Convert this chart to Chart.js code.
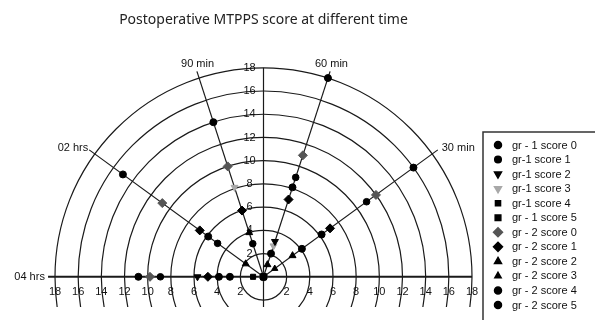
<!DOCTYPE html>
<html>
<head>
<meta charset="utf-8">
<script src="https://cdn.jsdelivr.net/npm/chart.js@4"></script>
<style>
  body { margin: 0; background: #fff; }
</style>
</head>
<body>
<canvas id="polarChart" width="595" height="320"></canvas>
<script>
// spokes (0 min on the right, going anticlockwise to 04 hrs on the left)
const spokeLabels = ['', '30 min', '60 min', '90 min', '02 hrs', '04 hrs'];
const ringTicks = [2, 4, 6, 8, 10, 12, 14, 16, 18];
const seriesNames = ['gr - 1 score 0', 'gr-1 score 1', 'gr-1 score 2', 'gr-1 score 3', 'gr-1 score 4', 'gr - 1 score 5',
  'gr - 2 score 0', 'gr - 2 score 1', 'gr - 2 score 2', 'gr - 2 score 3', 'gr - 2 score 4', 'gr - 2 score 5'];

// values per spoke: [0 min, 30 min, 60 min, 90 min, 02 hrs, 04 hrs]
const gr1Score0 = [0, 16, 18, 14, 15, 10.8];
const gr1Score1 = [0, 11, 9, 3, 4.9, 8.9];
const gr1Score2 = [0, 0, 3.2, 0, 0, 5.7];
const gr1Score3 = [0, 0, 2.8, 8.1, 0, 0];
const gr1Score4 = [0, 0, 0, 0, 0, 0.9];
const gr1Score5 = [0, 0, 0, 0, 0, 0];
const gr2Score0 = [0, 12, 11, 10, 10.8, 9.8];
const gr2Score1 = [0, 7.1, 7, 6, 6.8, 4.8];
const gr2Score2 = [0, 3.1, 1.1, 4, 1.9, 0];
const gr2Score3 = [0, 1.2, 0, 0, 0, 0];
const gr2Score4 = [0, 6.2, 8.1, 0, 5.9, 3.85];
const gr2Score5 = [0, 4.1, 2.1, 0, 0, 2.9];

const allSeries = [gr1Score0, gr1Score1, gr1Score2, gr1Score3, gr1Score4, gr1Score5,
  gr2Score0, gr2Score1, gr2Score2, gr2Score3, gr2Score4, gr2Score5];

const markers = [
  { style: 'circle', color: '#000', radius: 3.5, rotation: 0 },
  { style: 'circle', color: '#000', radius: 3.3, rotation: 0 },
  { style: 'triangle', color: '#000', radius: 4, rotation: 180 },
  { style: 'triangle', color: '#a8a8a8', radius: 4, rotation: 180 },
  { style: 'rect', color: '#000', radius: 3.6, rotation: 0 },
  { style: 'rect', color: '#000', radius: 4, rotation: 0 },
  { style: 'rectRot', color: '#555', radius: 4.5, rotation: 0 },
  { style: 'rectRot', color: '#000', radius: 4.5, rotation: 0 },
  { style: 'triangle', color: '#000', radius: 4, rotation: 0 },
  { style: 'triangle', color: '#000', radius: 3.6, rotation: 0 },
  { style: 'circle', color: '#000', radius: 3.5, rotation: 0 },
  { style: 'circle', color: '#000', radius: 3.5, rotation: 0 }
];

const RMAX = 18;
const YMIN = -2.6;
const angleOf = i => Math.PI * i / (spokeLabels.length - 1);
const toXY = vals => vals.map((r, i) => r == null ? null : ({ x: r * Math.cos(angleOf(i)), y: r * Math.sin(angleOf(i)) }));

const axisFont = '11px "Liberation Sans", Arial, sans-serif';

const polarGrid = {
  id: 'polarGrid',
  beforeDatasetsDraw(chart) {
    const { ctx, scales: { x, y } } = chart;
    const cx = x.getPixelForValue(0), cy = y.getPixelForValue(0);
    const kx = (x.getPixelForValue(RMAX) - cx) / RMAX;
    const ky = (cy - y.getPixelForValue(RMAX)) / RMAX;
    const yBottom = y.getPixelForValue(YMIN);

    ctx.save();
    ctx.strokeStyle = '#1a1a1a';
    ctx.lineWidth = 1.2;
    ctx.beginPath();
    ctx.rect(0, 0, chart.width, yBottom);
    ctx.clip();
    ringTicks.forEach(r => {
      ctx.beginPath();
      ctx.ellipse(cx, cy, r * kx, r * ky, 0, 0, Math.PI * 2);
      ctx.stroke();
    });
    ctx.restore();

    ctx.save();
    ctx.strokeStyle = '#1a1a1a';
    ctx.lineWidth = 1.2;
    // slanted spokes
    for (let i = 1; i < spokeLabels.length - 1; i++) {
      const a = angleOf(i);
      ctx.beginPath();
      ctx.moveTo(cx, cy);
      ctx.lineTo(cx + 18.6 * kx * Math.cos(a), cy - 18.6 * ky * Math.sin(a));
      ctx.stroke();
    }
    // vertical axis
    ctx.beginPath();
    ctx.moveTo(cx, y.getPixelForValue(RMAX));
    ctx.lineTo(cx, yBottom);
    ctx.stroke();
    // horizontal axis
    ctx.lineWidth = 2;
    ctx.beginPath();
    ctx.moveTo(x.getPixelForValue(-18.6), cy);
    ctx.lineTo(x.getPixelForValue(RMAX), cy);
    ctx.stroke();

    ctx.fillStyle = '#111';
    ctx.font = axisFont;
    // tick labels along the horizontal axis
    ctx.textAlign = 'center';
    ctx.textBaseline = 'middle';
    ringTicks.forEach(r => {
      ctx.fillText(String(r), x.getPixelForValue(-r), cy + 15);
      ctx.fillText(String(r), x.getPixelForValue(r), cy + 15);
    });
    // tick labels along the vertical axis
    ringTicks.forEach(r => {
      ctx.fillText(String(r), cx - 14, y.getPixelForValue(r));
    });
    // spoke labels
    spokeLabels.forEach((lab, i) => {
      if (!lab) return;
      const a = angleOf(i);
      const px = cx + 18.7 * kx * Math.cos(a), py = cy - 18.7 * ky * Math.sin(a);
      const c = Math.cos(a);
      if (Math.abs(c) > 0.99) {
        ctx.textAlign = 'right'; ctx.textBaseline = 'middle';
        ctx.fillText(lab, px - 2, py);
      } else if (Math.abs(c) > 0.5) {
        ctx.textAlign = c > 0 ? 'left' : 'right'; ctx.textBaseline = 'middle';
        ctx.fillText(lab, px + (c > 0 ? 3 : 0), py - 1);
      } else {
        ctx.textAlign = 'center'; ctx.textBaseline = 'bottom';
        ctx.fillText(lab, px + 1, py - 1);
      }
    });
    ctx.restore();
  },
  afterDraw(chart) {
    const { ctx } = chart;
    ctx.save();
    ctx.strokeStyle = '#333';
    ctx.lineWidth = 1.5;
    ctx.strokeRect(483, 132, 140, 200);
    ctx.font = axisFont;
    ctx.textAlign = 'left';
    ctx.textBaseline = 'middle';
    seriesNames.forEach((name, i) => {
      const yy = 145 + i * 14.55;
      const m = markers[i];
      ctx.fillStyle = m.color;
      ctx.strokeStyle = m.color;
      Chart.helpers.drawPoint(ctx, { pointStyle: m.style, radius: m.radius, rotation: m.rotation, borderWidth: 1 }, 498, yy);
      ctx.fillStyle = '#111';
      ctx.fillText(name, 512, yy + 0.5);
    });
    ctx.restore();
  }
};

new Chart(document.getElementById('polarChart'), {
  type: 'scatter',
  data: {
    datasets: allSeries.map((vals, i) => ({
      label: seriesNames[i],
      data: toXY(vals),
      pointStyle: markers[i].style,
      pointRotation: markers[i].rotation,
      pointRadius: markers[i].radius,
      backgroundColor: markers[i].color,
      borderColor: markers[i].color,
      borderWidth: 1,
      showLine: false,
      clip: false
    }))
  },
  options: {
    responsive: false,
    animation: false,
    layout: { padding: { left: 55, right: 123, top: 0, bottom: 13 } },
    scales: {
      x: { type: 'linear', min: -RMAX, max: RMAX, display: false },
      y: { type: 'linear', min: YMIN, max: RMAX, display: false }
    },
    plugins: {
      legend: { display: false },
      tooltip: { enabled: false },
      title: {
        display: true,
        text: 'Postoperative MTPPS score at different time',
        color: '#222',
        font: { family: '"Noto Sans", "Open Sans", sans-serif', size: 14, weight: 'normal', lineHeight: 1.2 },
        padding: { top: 12, bottom: 39 }
      }
    }
  },
  plugins: [polarGrid]
});
</script>
</body>
</html>
